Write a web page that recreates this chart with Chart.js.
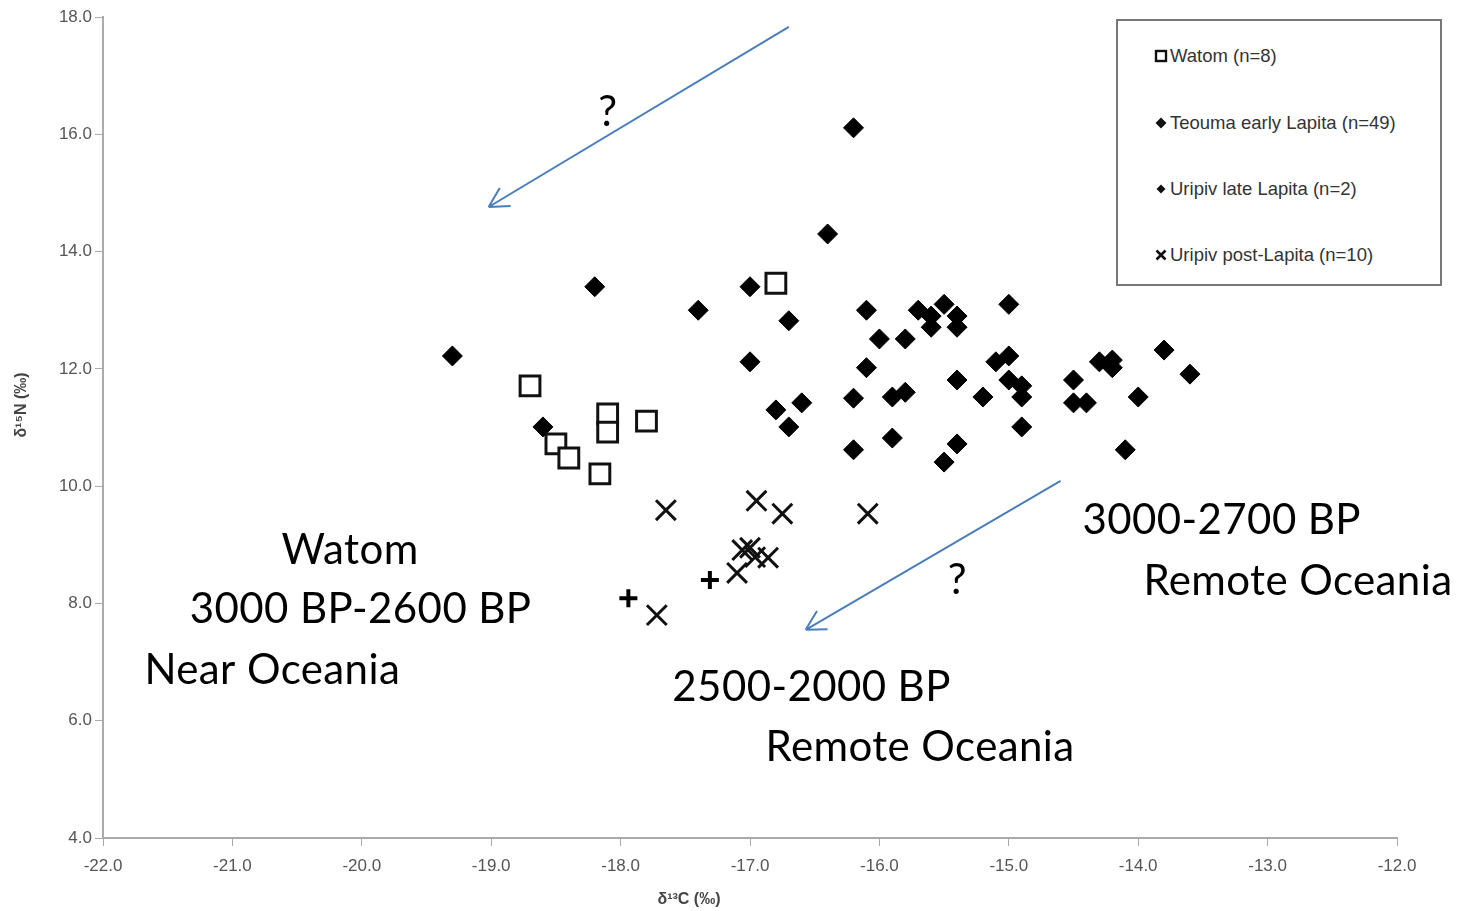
<!DOCTYPE html>
<html>
<head>
<meta charset="utf-8">
<script src="https://cdn.jsdelivr.net/npm/chart.js@4/dist/chart.umd.min.js"></script>
<style>
    body { margin: 0; background: #fff; }
    #wrap { position: relative; width: 1472px; height: 911px; }
    #legend {
        position: absolute; left: 1116px; top: 19px; width: 326px; height: 267px;
        box-sizing: border-box; border: 2px solid #777; background: #fff;
        font-family: "Liberation Sans", Arial, sans-serif; font-size: 18.5px; color: #333;
    }
    #legend .item { position: absolute; left: 36px; display: flex; align-items: center; height: 22px; }
    #legend svg { margin-right: 2px; }
</style>
</head>
<body>
<div id="wrap">
    <canvas id="chart" width="1472" height="911"></canvas>
    <div id="legend">
        <div class="item" style="top: 24px;"><svg width="14" height="14"><rect x="2" y="2" width="10" height="10" fill="#fff" stroke="#111" stroke-width="2.4"/></svg>Watom (n=8)</div>
        <div class="item" style="top: 91px;"><svg width="14" height="14"><polygon points="7,1.5 12.5,7 7,12.5 1.5,7" fill="#111"/></svg>Teouma early Lapita (n=49)</div>
        <div class="item" style="top: 157px;"><svg width="14" height="14"><polygon points="7,2.5 11.5,7 7,11.5 2.5,7" fill="#111"/></svg>Uripiv late Lapita (n=2)</div>
        <div class="item" style="top: 223px;"><svg width="14" height="14"><path d="M2.5,2.5 L11.5,11.5 M11.5,2.5 L2.5,11.5" stroke="#111" stroke-width="2.6"/></svg>Uripiv post-Lapita (n=10)</div>
    </div>
</div>
<script>
// δ13C (x) and δ15N (y) values
const watomC = [-18.70, -18.50, -18.40, -18.10, -18.10, -17.80, -18.16, -16.80];
const watomN = [11.71, 10.72, 10.48, 11.23, 10.92, 11.11, 10.21, 13.46];

const teoumaC = [
    -19.3, -18.2, -18.6, -17.4, -17.0, -17.0, -16.7, -16.8, -16.7, -16.6,
    -16.2, -16.4, -16.1, -15.7, -15.6, -15.5, -15.4, -15.6, -15.4, -15.0,
    -16.0, -15.8, -16.1, -15.1, -15.0, -15.4, -15.0, -14.9, -14.9, -15.2,
    -14.5, -14.5, -14.4, -14.3, -14.2, -14.2, -13.8, -13.6, -14.0, -14.1,
    -16.2, -15.9, -15.8, -16.2, -15.9, -15.4, -15.5, -14.9
];
const teoumaN = [
    12.22, 13.40, 11.01, 13.00, 13.40, 12.12, 12.82, 11.30, 11.01, 11.42,
    16.11, 14.30, 13.00, 13.00, 12.90, 13.10, 12.90, 12.71, 12.71, 13.10,
    12.51, 12.51, 12.02, 12.12, 12.22, 11.81, 11.81, 11.71, 11.52, 11.52,
    11.81, 11.42, 11.42, 12.12, 12.02, 12.15, 12.32, 11.91, 11.52, 10.62,
    11.50, 11.52, 11.60, 10.62, 10.82, 10.72, 10.41, 11.01
];

const lateC = [-17.94, -17.31];
const lateN = [8.09, 8.40];

const postC = [-17.65, -16.95, -16.75, -16.09, -17.06, -16.96, -16.86, -17.10, -17.72, -17.00];
const postN = [9.59, 9.75, 9.53, 9.53, 8.91, 8.79, 8.78, 8.52, 7.80, 8.95];

const xTicks = [-22, -21, -20, -19, -18, -17, -16, -15, -14, -13, -12];
const yTicks = [4, 6, 8, 10, 12, 14, 16, 18];

// annotations (data coordinates)
const arrows = [
    { from: [-16.70, 17.83], to: [-19.02, 14.76] },
    { from: [-14.60, 10.09], to: [-16.57, 7.55] }
];
const notes = [
    { text: 'Watom', x: -20.62, y: 8.91 },
    { text: '3000 BP-2600 BP', x: -21.33, y: 7.89 },
    { text: 'Near Oceania', x: -21.68, y: 6.85 },
    { text: '3000-2700 BP', x: -14.43, y: 9.42 },
    { text: 'Remote Oceania', x: -13.96, y: 8.38 },
    { text: '2500-2000 BP', x: -17.60, y: 6.56 },
    { text: 'Remote Oceania', x: -16.88, y: 5.54 }
];
const marks = [
    { text: '?', x: -18.10, y: 16.38 },
    { text: '?', x: -15.40, y: 8.40 }
];

const pts = (xs, ys) => xs.map((x, i) => ({ x: x, y: ys[i] }));

const annotate = {
    id: 'annotate',
    afterDraw(chart) {
        const ctx = chart.ctx, sx = chart.scales.x, sy = chart.scales.y;
        ctx.save();
        // arrows
        ctx.strokeStyle = '#4a7ebb';
        ctx.lineWidth = 2;
        arrows.forEach(a => {
            const x1 = sx.getPixelForValue(a.from[0]), y1 = sy.getPixelForValue(a.from[1]);
            const x2 = sx.getPixelForValue(a.to[0]), y2 = sy.getPixelForValue(a.to[1]);
            const ang = Math.atan2(y2 - y1, x2 - x1);
            ctx.beginPath();
            ctx.moveTo(x1, y1);
            ctx.lineTo(x2, y2);
            [0.5, -0.5].forEach(d => {
                ctx.moveTo(x2, y2);
                ctx.lineTo(x2 - 22 * Math.cos(ang + d), y2 - 22 * Math.sin(ang + d));
            });
            ctx.stroke();
        });
        // text
        ctx.fillStyle = '#000';
        ctx.textBaseline = 'middle';
        ctx.font = '42px Lato, "Open Sans", sans-serif';
        ctx.letterSpacing = '0.4px';
        ctx.textAlign = 'left';
        notes.forEach(n => ctx.fillText(n.text, sx.getPixelForValue(n.x), sy.getPixelForValue(n.y)));
        ctx.letterSpacing = '0px';
        ctx.textAlign = 'center';
        marks.forEach(n => ctx.fillText(n.text, sx.getPixelForValue(n.x), sy.getPixelForValue(n.y)));
        // axis titles
        ctx.font = 'bold 16px "Liberation Sans", Arial, sans-serif';
        ctx.fillStyle = '#444';
        ctx.fillText('δ¹³C (‰)', 689, 900);
        ctx.translate(22, 405);
        ctx.rotate(-Math.PI / 2);
        ctx.fillText('δ¹⁵N (‰)', 0, 0);
        ctx.restore();
    }
};

const tickFont = { family: '"Liberation Sans", Arial, sans-serif', size: 17 };

new Chart(document.getElementById('chart'), {
    type: 'scatter',
    data: {
        datasets: [
            {
                label: 'Watom (n=8)',
                data: pts(watomC, watomN),
                pointStyle: 'rect',
                pointRadius: 14,
                pointHoverRadius: 14,
                backgroundColor: '#fff',
                borderColor: '#111',
                borderWidth: 3
            },
            {
                label: 'Teouma early Lapita (n=49)',
                data: pts(teoumaC, teoumaN),
                pointStyle: 'rectRot',
                pointRadius: 10,
                pointHoverRadius: 10,
                backgroundColor: '#000',
                borderColor: '#000',
                borderWidth: 1
            },
            {
                label: 'Uripiv late Lapita (n=2)',
                data: pts(lateC, lateN),
                pointStyle: 'cross',
                pointRadius: 9,
                pointHoverRadius: 9,
                borderColor: '#000',
                borderWidth: 4
            },
            {
                label: 'Uripiv post-Lapita (n=10)',
                data: pts(postC, postN),
                pointStyle: 'crossRot',
                pointRadius: 14,
                pointHoverRadius: 14,
                borderColor: '#111',
                borderWidth: 3
            }
        ]
    },
    options: {
        responsive: false,
        animation: false,
        layout: { padding: { top: 17, right: 75, left: 0, bottom: 0 } },
        plugins: { legend: { display: false }, tooltip: { enabled: false } },
        scales: {
            x: {
                type: 'linear', min: -22, max: -12,
                afterFit: s => { s.height = 73; },
                afterBuildTicks: s => { s.ticks = xTicks.map(v => ({ value: v })); },
                ticks: { font: tickFont, color: '#555', padding: 10, callback: v => v.toFixed(1) },
                grid: { drawOnChartArea: false, tickLength: 8, color: '#aaa' },
                border: { color: '#aaa', width: 2 }
            },
            y: {
                type: 'linear', min: 4, max: 18,
                afterFit: s => { s.width = 103; },
                afterBuildTicks: s => { s.ticks = yTicks.map(v => ({ value: v })); },
                ticks: { font: tickFont, color: '#555', padding: 3, callback: v => v.toFixed(1) },
                grid: { drawOnChartArea: false, tickLength: 8, color: '#aaa' },
                border: { color: '#aaa', width: 2 }
            }
        }
    },
    plugins: [annotate]
});
</script>
</body>
</html>
